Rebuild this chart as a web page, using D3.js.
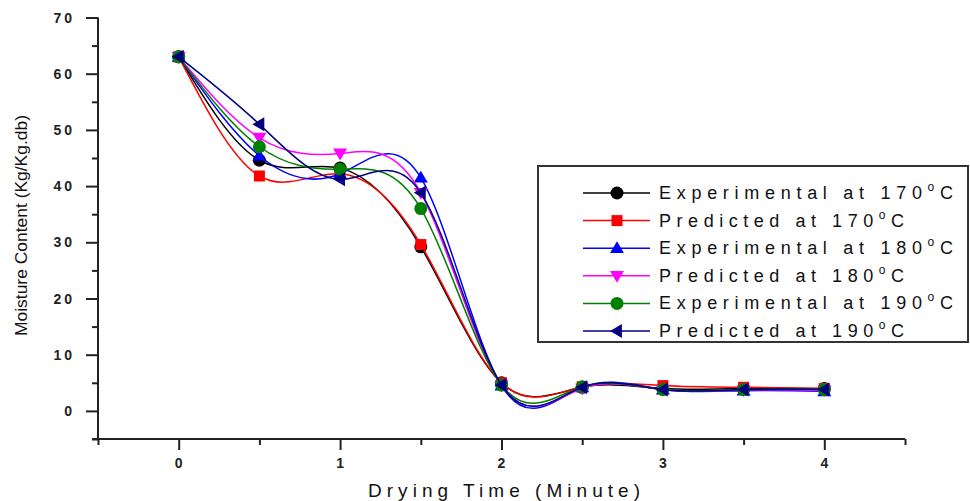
<!DOCTYPE html>
<html>
<head>
<meta charset="utf-8">
<script src="https://cdn.jsdelivr.net/npm/d3@7"></script>
<style>
  body { margin: 0; background: #fff; }
  svg { display: block; }
</style>
</head>
<body>
<div id="chart"></div>
<script>
// drying curves: moisture content vs time
var times = [0, 0.5, 1, 1.5, 2, 2.5, 3, 3.5, 4];

var exp170  = [63, 44.6, 43.2, 29.2, 5.0, 4.2, 4.0, 4.0, 4.0];
var pred170 = [63, 41.8, 42.2, 29.6, 5.0, 4.3, 4.5, 4.2, 4.0];
var exp180  = [63, 45.4, 42.2, 41.5, 4.5, 4.2, 3.8, 3.6, 3.5];
var pred180 = [63, 48.6, 45.8, 38.8, 4.5, 4.0, 3.8, 3.7, 3.7];
var exp190  = [63, 47.0, 43.0, 36.0, 4.6, 4.3, 3.8, 3.8, 3.8];
var pred190 = [63, 51.0, 41.2, 38.8, 4.6, 4.2, 3.8, 3.8, 3.8];

var seriesNames = ["Experimental at 170", "Predicted at 170", "Experimental at 180",
                   "Predicted at 180", "Experimental at 190", "Predicted at 190"];
var seriesValues = [exp170, pred170, exp180, pred180, exp190, pred190];
var seriesColors = ["#000000", "#ff0000", "#0000ff", "#ff00ff", "#008000", "#000080"];
var seriesSymbols = ["circle", "square", "up", "down", "circle", "left"];

var xTicks = [0, 1, 2, 3, 4];
var yTicks = [0, 10, 20, 30, 40, 50, 60, 70];

var width = 970, height = 501;

var svg = d3.select("#chart").append("svg")
	.attr("width", width)
	.attr("height", height);

var x = d3.scaleLinear().domain([-0.5, 4.5]).range([98, 905]);
var y = d3.scaleLinear().domain([-5, 70]).range([439, 17.5]);

var axisColor = "#222";
var tickFont = "Liberation Sans, Arial, sans-serif";

// minor + major ticks
var xAll = d3.range(-0.5, 4.51, 0.5);
var yAll = d3.range(-5, 70.1, 5);

var xAxis = d3.axisBottom(x).tickValues(xAll).tickSize(0).tickFormat("");
var yAxis = d3.axisLeft(y).tickValues(yAll).tickSize(0).tickFormat("");

var gx = svg.append("g").attr("transform", "translate(0,439)").call(xAxis);
var gy = svg.append("g").attr("transform", "translate(98,0)").call(yAxis);

gx.select(".domain").remove();
gy.select(".domain").remove();

gx.selectAll(".tick line")
	.attr("y2", function(d) { return xTicks.indexOf(d) >= 0 ? 11 : 6; })
	.attr("stroke", axisColor).attr("stroke-width", 2);
gy.selectAll(".tick line")
	.attr("x2", function(d) { return yTicks.indexOf(d) >= 0 ? -12 : -6; })
	.attr("stroke", axisColor).attr("stroke-width", 2);

// axis lines
svg.append("line").attr("x1", 98).attr("x2", 98).attr("y1", y(70)).attr("y2", 439)
	.attr("stroke", axisColor).attr("stroke-width", 2);
svg.append("line").attr("x1", 92).attr("x2", x(4.5)).attr("y1", 439).attr("y2", 439)
	.attr("stroke", axisColor).attr("stroke-width", 2);

// tick labels
svg.append("g").selectAll("text").data(xTicks).enter().append("text")
	.attr("x", function(d) { return x(d); })
	.attr("y", 468)
	.attr("text-anchor", "middle")
	.style("font-family", tickFont)
	.style("font-size", "14px")
	.style("font-weight", "bold")
	.style("fill", "#222")
	.text(function(d) { return d; });

svg.append("g").selectAll("text").data(yTicks).enter().append("text")
	.attr("x", 75)
	.attr("y", function(d) { return y(d) + 5; })
	.attr("text-anchor", "end")
	.style("font-family", tickFont)
	.style("font-size", "14px")
	.style("font-weight", "bold")
	.style("letter-spacing", "3px")
	.style("fill", "#222")
	.text(function(d) { return d; });

// axis titles
svg.append("text")
	.attr("x", 368).attr("y", 497)
	.attr("textLength", 272)
	.attr("lengthAdjust", "spacing")
	.style("font-family", tickFont)
	.style("font-size", "19px")
	.style("fill", "#111")
	.text("Drying Time (Minute)");

svg.append("text")
	.attr("transform", "translate(27,336) rotate(-90)")
	.attr("textLength", 221)
	.attr("lengthAdjust", "spacingAndGlyphs")
	.style("font-family", tickFont)
	.style("font-size", "16px")
	.style("fill", "#111")
	.text("Moisture Content (Kg/Kg.db)");

// symbols
function drawSymbol(g, type, cx, cy, color) {
	if (type === "circle") {
		g.append("circle").attr("cx", cx).attr("cy", cy).attr("r", 6.5).attr("fill", color);
	} else if (type === "square") {
		g.append("rect").attr("x", cx - 5.5).attr("y", cy - 5.5)
			.attr("width", 11).attr("height", 11).attr("fill", color);
	} else {
		var s = 7;
		var pts;
		if (type === "up") pts = [[cx, cy - s], [cx - s, cy + s * 0.7], [cx + s, cy + s * 0.7]];
		if (type === "down") pts = [[cx, cy + s], [cx - s, cy - s * 0.7], [cx + s, cy - s * 0.7]];
		if (type === "left") pts = [[cx - s, cy], [cx + s * 0.7, cy - s], [cx + s * 0.7, cy + s]];
		g.append("polygon").attr("points", pts.map(function(p) { return p.join(","); }).join(" "))
			.attr("fill", color);
	}
}

var line = d3.line()
	.x(function(d, i) { return x(times[i]); })
	.y(function(d) { return y(d); })
	.curve(d3.curveNatural);

var plot = svg.append("g");
seriesValues.forEach(function(vals, k) {
	var g = plot.append("g");
	g.append("path")
		.attr("d", line(vals))
		.attr("fill", "none")
		.attr("stroke", seriesColors[k])
		.attr("stroke-width", 1.5);
	vals.forEach(function(v, i) {
		drawSymbol(g, seriesSymbols[k], x(times[i]), y(v), seriesColors[k]);
	});
});

// legend
svg.append("rect")
	.attr("x", 538).attr("y", 166)
	.attr("width", 430).attr("height", 176)
	.attr("fill", "#fff")
	.attr("stroke", "#333")
	.attr("stroke-width", 2);

var legendTargets = [294, 245, 294, 245, 294, 245];
seriesNames.forEach(function(name, k) {
	var ly = 193 + k * 27.6;
	var g = svg.append("g");
	g.append("line").attr("x1", 583).attr("x2", 650).attr("y1", ly).attr("y2", ly)
		.attr("stroke", seriesColors[k]).attr("stroke-width", 1.5);
	drawSymbol(g, seriesSymbols[k], 617, ly, seriesColors[k]);

	var t = g.append("text")
		.attr("x", 659).attr("y", ly + 6)
		.style("font-family", tickFont)
		.style("font-size", "18px")
		.style("fill", "#111");
	t.append("tspan").text(name);
	t.append("tspan").attr("dy", -8).style("font-size", "12px").text("o");
	t.append("tspan").attr("dy", 8).text("C");

	// stretch letter spacing to the width seen in the picture
	var w = t.node().getComputedTextLength();
	var n = name.length + 2;
	var ls = (legendTargets[k] - w) / (n - 1);
	t.style("letter-spacing", ls + "px");
});
</script>
</body>
</html>
